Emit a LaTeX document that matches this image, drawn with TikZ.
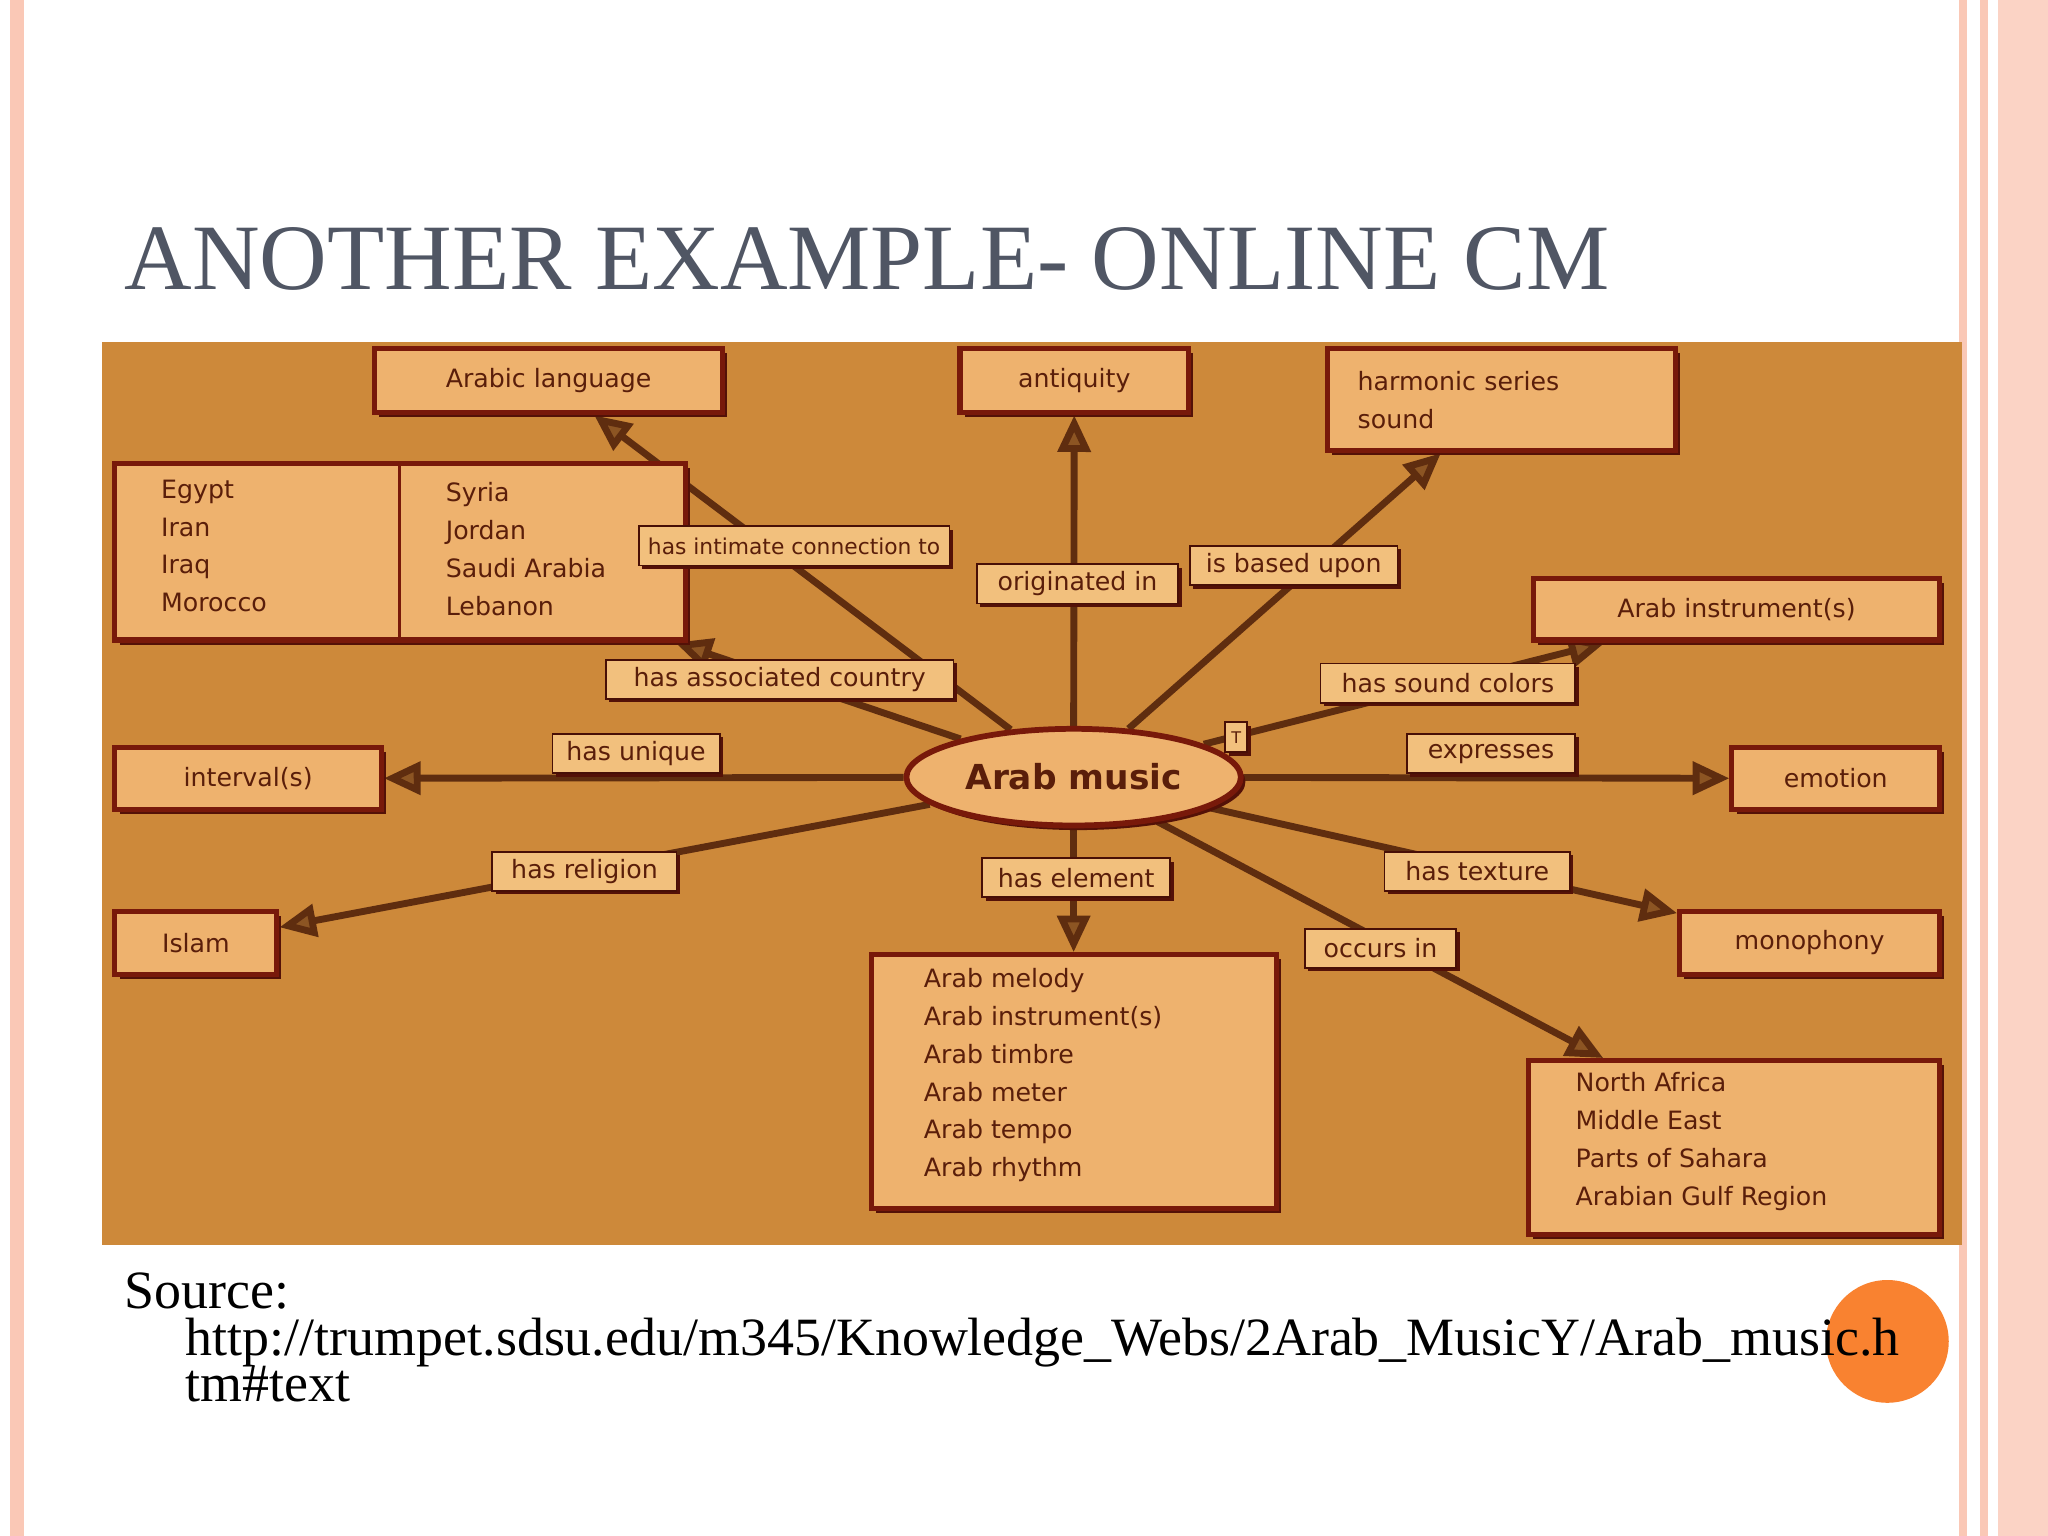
\documentclass[tikz,border=0pt]{standalone}
\usepackage{fontspec}
\setmainfont{Liberation Serif}
\newfontfamily\boxfont{DejaVu Sans}
\usetikzlibrary{arrows.meta,shapes.geometric,shadows}
\definecolor{panel}{RGB}{205,137,58}
\definecolor{boxfill}{RGB}{238,178,110}
\definecolor{labfill}{RGB}{242,192,125}
\definecolor{bord}{RGB}{120,25,10}
\definecolor{txt}{RGB}{90,30,10}
\definecolor{edgec}{RGB}{95,45,15}
\definecolor{tipc}{RGB}{140,85,35}
\definecolor{titlec}{RGB}{80,86,100}
\definecolor{pinkc}{RGB}{250,200,182}
\definecolor{circc}{RGB}{249,130,48}
\pgfdeclarelayer{bg}
\pgfdeclarelayer{edges}
\pgfsetlayers{bg,edges,main}
\tikzset{
 bx/.style 2 args={draw=bord,fill=boxfill,line width=2.2pt,minimum width=#1*0.02cm,minimum height=#2*0.02cm,
   inner sep=0pt,font=\boxfont\fontsize{11}{16.5}\selectfont,text=txt,
   drop shadow={shadow xshift=2pt,shadow yshift=-2pt,fill=bord!70!black,opacity=1}},
 lab/.style 2 args={draw=bord!60!black,fill=labfill,line width=0.8pt,minimum width=#1*0.02cm,minimum height=#2*0.02cm,
   inner sep=0pt,font=\boxfont\fontsize{11}{13}\selectfont,text=txt,
   drop shadow={shadow xshift=1.5pt,shadow yshift=-1.5pt,fill=bord!70!black,opacity=1}},
 edge/.style={draw=edgec,line width=3pt,-{Triangle[length=16pt,width=14pt,fill=tipc]}},
}
\begin{document}
\begin{tikzpicture}[x=0.02cm,y=-0.02cm]
\useasboundingbox (0,0) rectangle (1568,1176);
\begin{pgfonlayer}{bg}
\fill[white] (0,0) rectangle (1568,1176);
\fill[pinkc] (8,0) rectangle (18,1176);
\fill[pinkc] (1500,0) rectangle (1506,1176);
\fill[pinkc] (1516,0) rectangle (1522,1176);
\fill[pinkc!80!white] (1530,0) rectangle (1568,1176);
\fill[panel] (78,262) rectangle (1502,953);
\end{pgfonlayer}
\node[anchor=base west,inner sep=0pt,text=titlec,font=\fontsize{40.8}{42}\selectfont] (title) at (95,222) {ANOTHER EXAMPLE- ONLINE CM};
% boxes
\node[bx={266}{49}] (arlang) at (420,291.5) {Arabic language};
\node[bx={175}{49}] (anti) at (822.5,291.5) {antiquity};
\node[bx={267}{78},align=left,text width=220*0.02cm] (harm) at (1149.5,306) {harmonic series\\sound};
\node[bx={437}{135}] (cbox) at (306.5,422.5) {};
\draw[bord,line width=1.5pt] (306,357) -- (306,488);
\node[anchor=north west,align=left,inner sep=0pt,font=\boxfont\fontsize{11}{16.5}\selectfont,text=txt] (c1) at (123,367) {Egypt\\Iran\\Iraq\\Morocco};
\node[anchor=north west,align=left,inner sep=0pt,font=\boxfont\fontsize{11}{16.5}\selectfont,text=txt] (c2) at (341,369) {Syria\\Jordan\\Saudi Arabia\\Lebanon};
\node[bx={311}{47}] (arinst) at (1329.5,466.5) {Arab instrument(s)};
\node[bx={204}{48}] (interv) at (190,596) {interval(s)};
\node[bx={159}{48}] (emot) at (1405.5,596) {emotion};
\node[bx={124}{48}] (islam) at (150,722) {Islam};
\node[bx={199}{48}] (mono) at (1385.5,722) {monophony};
\node[bx={310}{194}] (elem) at (822,828) {};
\node[anchor=north west,align=left,inner sep=0pt,font=\boxfont\fontsize{11}{16.5}\selectfont,text=txt] (elt) at (707,741) {Arab melody\\Arab instrument(s)\\Arab timbre\\Arab meter\\Arab tempo\\Arab rhythm};
\node[bx={315}{133}] (nafr) at (1327.5,878.5) {};
\node[anchor=north west,align=left,inner sep=0pt,font=\boxfont\fontsize{11}{16.5}\selectfont,text=txt] (nat) at (1206,821) {North Africa\\Middle East\\Parts of Sahara\\Arabian Gulf Region};
% central
\node[ellipse,draw=bord,fill=boxfill,line width=2.5pt,minimum width=256*0.02cm,minimum height=74*0.02cm,
  font=\boxfont\bfseries\fontsize{15}{18}\selectfont,text=txt,
  drop shadow={shadow xshift=2pt,shadow yshift=-2pt,fill=bord!70!black,opacity=1}] (am) at (822,595) {Arab music};
\node[lab={17}{23},font=\boxfont\fontsize{7}{8}\selectfont] (tt) at (946.5,564.5) {T};
% labels
\node[lab={238}{30},font=\boxfont\fontsize{9.5}{11}\selectfont] (l1) at (608,418) {has intimate connection to};
\node[lab={154}{30}] (l2) at (825,447) {originated in};
\node[lab={159}{30}] (l3) at (990.5,433) {is based upon};
\node[lab={266}{30}] (l4) at (597,520) {has associated country};
\node[lab={195}{30}] (l5) at (1108.5,523) {has sound colors};
\node[lab={128}{30}] (l6) at (487,577) {has unique};
\node[lab={129}{30}] (l7) at (1141.5,577) {expresses};
\node[lab={141}{30}] (l8) at (447.5,667) {has religion};
\node[lab={144}{30}] (l9) at (824,672) {has element};
\node[lab={142}{30}] (l10) at (1131,667) {has texture};
\node[lab={116}{30}] (l11) at (1057,726) {occurs in};
% edges
\begin{pgfonlayer}{edges}
\draw[edge] (am) -- (arlang);
\draw[edge] (am.north) -- (anti);
\draw[edge] (am) -- (harm);
\draw[edge] (am) -- ([xshift=-0.2cm]cbox.south east);
\draw[edge] (am) -- (arinst);
\draw[edge] (am) -- (interv);
\draw[edge] (am) -- (emot);
\draw[edge] (am) -- (islam);
\draw[edge] (am.south) -- (elem);
\draw[edge] (am) -- (mono);
\draw[edge] (am) -- ([xshift=-2cm]nafr.north);
\end{pgfonlayer}
% source
\node[anchor=base west,inner sep=0pt,font=\fontsize{23.5}{26}\selectfont] (src) at (95,1002) {Source:};
\fill[circc] (1445,1027) circle (47);
\node[anchor=base west,inner sep=0pt,font=\fontsize{23.5}{26}\selectfont] (url) at (142,1038) {http://trumpet.sdsu.edu/m345/Knowledge\_Webs/2Arab\_MusicY/Arab\_music.h};
\node[anchor=base west,inner sep=0pt,font=\fontsize{23.5}{26}\selectfont] (url2) at (142,1073) {tm\#text};
\end{tikzpicture}
\end{document}
